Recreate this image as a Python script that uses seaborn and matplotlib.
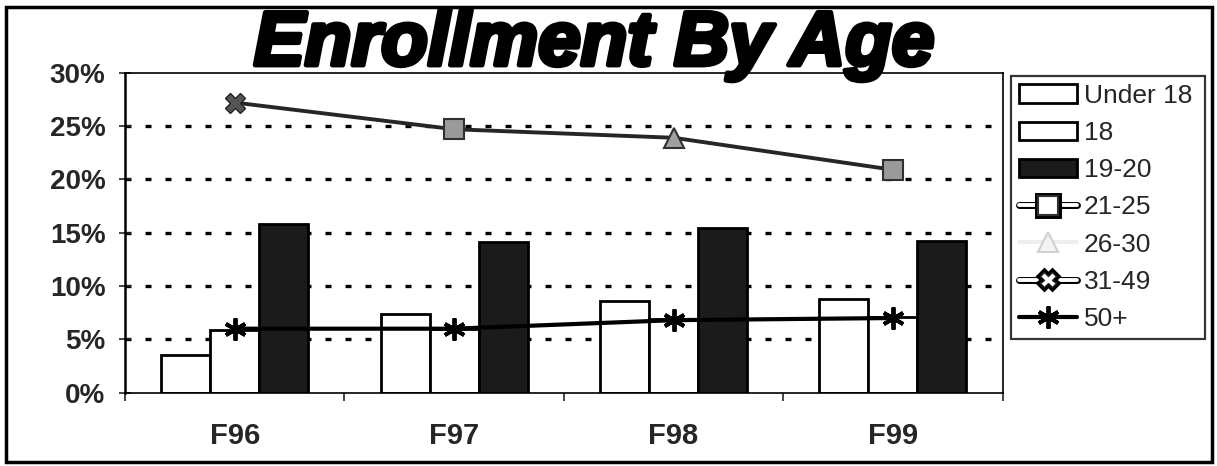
import matplotlib
matplotlib.use("Agg")
import matplotlib.pyplot as plt
import matplotlib.patheffects as pe
from matplotlib.patches import Rectangle
from matplotlib.ticker import FuncFormatter, FixedLocator
import numpy as np
import pandas as pd
import seaborn as sns

YEARS = ["F96", "F97", "F98", "F99"]
BAR_GROUPS = ["Under 18", "18", "19-20"]
UNDER_18 = [3.5, 7.4, 8.6, 8.8]
AGE_18 = [5.9, 6.0, 6.9, 7.1]
AGE_19_20 = [15.8, 14.1, 15.4, 14.2]
AGE_21_25 = [27.2, 24.7, 23.9, 20.9]
AGE_26_30 = [np.nan, np.nan, 23.9, np.nan]
AGE_31_49 = [27.2, np.nan, np.nan, np.nan]
AGE_50_PLUS = [6.0, 6.0, 6.8, 7.0]

W, H = 1217, 466

sns.set_style("white")
plt.rcParams["font.family"] = ["Liberation Sans", "DejaVu Sans"]

bars = pd.DataFrame({
    "year": YEARS * 3,
    "group": [g for g in BAR_GROUPS for _ in YEARS],
    "share": UNDER_18 + AGE_18 + AGE_19_20,
})

fig = plt.figure(figsize=(W / 100, H / 100), dpi=100)
ax = fig.add_axes([125 / W, 1 - 392.7 / H, (1002.7 - 125) / W, (392.7 - 72.7) / H])

for y in range(5, 30, 5):
    ax.axhline(y, color="black", lw=2.4, ls=(0, (1.8, 4.2)), zorder=0.5)

sns.barplot(data=bars, x="year", y="share", hue="group", hue_order=BAR_GROUPS,
            palette=["white", "white", "#1b1b1b"], width=0.67, edgecolor="black",
            linewidth=2.0, legend=False, ax=ax, zorder=2)

x = np.arange(len(YEARS))
l21, = ax.plot(x, AGE_21_25, color="#262626", lw=2.8, marker="s", ms=14,
               mfc="#9a9a9a", mec="#303030", mew=1.5, markevery=[1, 3], zorder=4)
l26, = ax.plot(x, AGE_26_30, color="#cfcfcf", lw=2.8, marker="^", ms=14,
               mfc="#a0a0a0", mec="#303030", mew=1.5, zorder=5)
l31, = ax.plot(x, AGE_31_49, color="#cfcfcf", lw=2.8, marker="X", ms=15,
               mfc="#555555", mec="#222222", mew=1.0, zorder=5)
l50, = ax.plot(x, AGE_50_PLUS, color="black", lw=3.0, marker=(6, 2, 0), ms=16,
               mew=2.8, mec="black", zorder=4)

ax.set_xlim(-0.5, 3.5)
ax.set_ylim(0, 30)
ax.set_xlabel("")
ax.set_ylabel("")
ax.yaxis.set_major_locator(FixedLocator(range(0, 31, 5)))
ax.yaxis.set_major_formatter(FuncFormatter(lambda v, p: f"{v:.0f}%"))
ax.tick_params(axis="y", direction="inout", length=8, width=1.2, pad=10,
               labelsize=20, left=True)
ax.tick_params(axis="x", length=0, pad=21, labelsize=21)
ax.xaxis.set_minor_locator(FixedLocator([-0.5, 0.5, 1.5, 2.5, 3.5]))
ax.tick_params(axis="x", which="minor", direction="out", length=6, width=1.2, bottom=True)
for lab in ax.get_xticklabels() + ax.get_yticklabels():
    lab.set_fontweight("bold")
for name, sp in ax.spines.items():
    sp.set_visible(True)
    sp.set_color("black")
    sp.set_linewidth(1.2)
ax.spines["left"].set_linewidth(1.8)

handles = list(ax.containers[:3]) + [l21, l26, l31, l50]
labels = BAR_GROUPS + ["21-25", "26-30", "31-49", "50+"]
leg = fig.legend(handles, labels, loc="upper left",
                 bbox_to_anchor=(1011 / W, 1 - 353 / H, 194 / W, 277 / H),
                 mode="expand", fontsize=19, frameon=True, fancybox=False,
                 edgecolor="black", borderpad=0.3, labelspacing=0.5,
                 handlelength=2.2, handletextpad=0.25, borderaxespad=0)
leg.get_frame().set_linewidth(1.6)

outline = [pe.Stroke(linewidth=5, foreground="black"), pe.Normal()]
lh = leg.legend_handles
lh[3].set_color("white")
lh[3].set_path_effects(outline)
lh[3].set_markerfacecolor("white")
lh[3].set_markevery([1])
lh[4].set_color("#eeeeee")
lh[4].set_markerfacecolor("#f4f4f4")
lh[4].set_markeredgecolor("#d0d0d0")
lh[5].set_color("white")
lh[5].set_path_effects(outline)
lh[5].set_markerfacecolor("white")
lh[5].set_markersize(11)

fig.text(594 / W, 1 - 65 / H, "Enrollment By Age", ha="center", va="baseline",
         fontsize=55, fontweight="bold", fontstyle="italic", color="black",
         path_effects=[pe.Stroke(linewidth=3.5, foreground="black"), pe.Normal()])

fig.add_artist(Rectangle((6 / W, 4 / H), (1212 - 6) / W, (459 - 4) / H,
                         transform=fig.transFigure, fill=False, lw=2.5, ec="black"))

fig.savefig("out.png", dpi=100)
